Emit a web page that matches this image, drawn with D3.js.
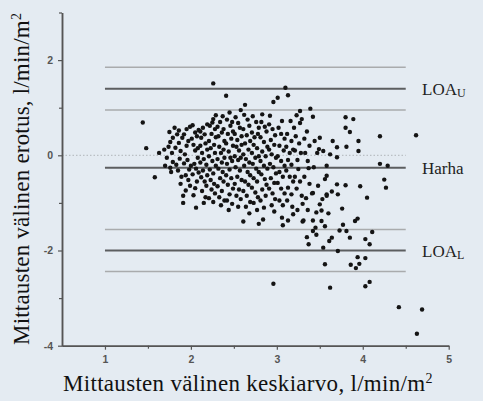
<!DOCTYPE html>
<html>
<head>
<meta charset="utf-8">
<script src="https://cdnjs.cloudflare.com/ajax/libs/d3/7.8.5/d3.min.js"></script>
<style>
body{margin:0;background:#e4ebf2;}
svg{display:block;}
</style>
</head>
<body>
<div id="chart"></div>
<script>
// akselit
var xTicks=[1,2,3,4,5];
var xMinor=[1.5,2.5,3.5,4.5];
var yTicks=[-4,-2,0,2];
var yMinor=[-3,-1,1,3];

// harha ja yhtäpitävyysrajat (LOA) + luottamusvälit
var rajaArvot=[1.40,-0.26,-2.00];
var rajaNimet=[["LOA","U"],["Harha",""],["LOA","L"]];
var luottamusvalit=[1.85,0.95,-1.56,-2.44];
var viivaAlku=1, viivaLoppu=4.5;

// [keskiarvo, erotus]
var pisteet=[
[1.44,0.69],[1.48,0.15],[1.58,-0.46],[1.63,0.05],[1.70,-0.22],[1.69,0.12],
[1.75,0.49],[1.79,0.37],[1.76,0.28],[1.72,-0.05],[1.76,-0.26],[1.78,0.05],[1.74,0.18],[1.79,-0.14],[1.77,-0.35],
[1.82,0.16],[1.88,0.09],[1.87,-0.07],[1.90,0.37],[1.84,0.44],[1.86,0.26],[1.83,-0.20],[1.85,-0.32],[1.89,-0.45],[1.81,0.58],[1.88,-0.60],[1.86,0.52],
[1.92,0.44],[1.92,-0.17],[1.99,0.60],[1.91,-1.00],[1.94,-0.74],[1.99,-0.64],[1.95,0.20],[1.97,0.30],[1.93,0.02],[1.96,-0.10],[1.98,-0.30],[1.94,-0.42],[1.97,-0.52],[1.95,0.55],[1.91,-0.85],
[2.02,0.63],[2.09,0.53],[2.06,-1.10],[2.05,-0.69],[2.01,0.35],[2.03,0.22],[2.05,0.10],[2.07,0.40],[2.08,-0.05],[2.04,-0.18],[2.06,-0.28],[2.02,-0.40],[2.09,-0.36],[2.07,-0.55],[2.03,-0.84],[2.08,0.15],[2.00,-0.22],[2.05,0.48],
[2.12,0.37],[2.16,0.44],[2.18,-0.64],[2.14,0.58],[2.11,0.20],[2.17,0.25],[2.13,0.05],[2.19,0.12],[2.15,-0.08],[2.11,-0.15],[2.18,-0.20],[2.14,-0.32],[2.12,-0.46],[2.19,-0.42],[2.16,-0.55],[2.13,-0.75],[2.17,-0.88],[2.19,0.65],[2.15,-1.00],[2.11,0.50],
[2.22,0.62],[2.25,0.69],[2.26,0.76],[2.26,1.51],[2.21,0.30],[2.24,0.45],[2.28,0.55],[2.23,0.15],[2.27,0.22],[2.29,0.38],[2.21,-0.02],[2.25,-0.12],[2.28,0.05],[2.22,-0.30],[2.26,-0.38],[2.29,-0.22],[2.23,-0.52],[2.27,-0.60],[2.24,-0.72],[2.28,-0.80],[2.21,-0.90],[2.26,-0.98],[2.29,0.84],
[2.31,0.60],[2.34,0.70],[2.37,0.82],[2.32,0.40],[2.36,0.48],[2.39,0.30],[2.33,0.18],[2.35,0.05],[2.38,0.12],[2.31,-0.08],[2.36,-0.15],[2.39,-0.05],[2.32,-0.28],[2.37,-0.35],[2.34,-0.48],[2.38,-0.55],[2.31,-0.65],[2.36,-0.75],[2.33,-0.88],[2.39,-0.95],[2.35,-1.05],[2.38,0.55],
[2.41,1.25],[2.45,0.90],[2.42,0.75],[2.46,0.62],[2.48,0.70],[2.43,0.45],[2.47,0.35],[2.41,0.25],[2.49,0.20],[2.44,0.08],[2.46,-0.05],[2.42,-0.18],[2.48,-0.12],[2.45,-0.30],[2.41,-0.42],[2.47,-0.48],[2.43,-0.62],[2.49,-0.70],[2.45,-0.82],[2.42,-0.95],[2.48,-1.02],[2.44,-1.15],[2.49,0.50],
[2.58,0.95],[2.52,0.80],[2.55,0.68],[2.57,0.58],[2.51,0.45],[2.54,0.32],[2.59,0.40],[2.53,0.18],[2.56,0.10],[2.59,0.22],[2.51,-0.02],[2.55,-0.10],[2.58,-0.05],[2.52,-0.25],[2.57,-0.32],[2.54,-0.45],[2.59,-0.52],[2.51,-0.60],[2.56,-0.72],[2.53,-0.85],[2.58,-0.92],[2.55,-1.08],[2.61,-1.39],
[2.63,1.06],[2.62,0.85],[2.66,0.75],[2.68,0.62],[2.61,0.55],[2.65,0.42],[2.69,0.30],[2.63,0.25],[2.67,0.12],[2.61,0.02],[2.64,-0.08],[2.68,-0.15],[2.62,-0.22],[2.66,-0.35],[2.69,-0.42],[2.63,-0.55],[2.67,-0.62],[2.61,-0.75],[2.65,-0.85],[2.69,-0.98],[2.64,-1.08],[2.68,-1.22],
[2.72,0.82],[2.76,0.70],[2.79,0.58],[2.71,0.48],[2.74,0.38],[2.78,0.45],[2.73,0.22],[2.77,0.15],[2.71,0.05],[2.75,-0.05],[2.79,-0.02],[2.72,-0.18],[2.76,-0.28],[2.79,-0.35],[2.73,-0.48],[2.77,-0.55],[2.71,-0.68],[2.75,-0.78],[2.78,-0.88],[2.73,-1.00],[2.77,-1.15],[2.79,-1.44],
[2.83,0.86],[2.84,-1.35],[2.82,0.70],[2.86,0.60],[2.88,0.50],[2.81,0.38],[2.85,0.28],[2.89,0.18],[2.83,0.08],[2.87,-0.02],[2.81,-0.12],[2.85,-0.22],[2.89,-0.28],[2.82,-0.40],[2.86,-0.50],[2.88,-0.62],[2.83,-0.72],[2.87,-0.85],[2.81,-0.95],[2.85,-1.10],
[2.92,0.83],[2.96,1.12],[2.96,-2.70],[2.91,0.65],[2.95,0.55],[2.98,0.42],[2.93,0.32],[2.97,0.22],[2.91,0.12],[2.94,0.02],[2.99,-0.05],[2.92,-0.18],[2.96,-0.25],[2.99,-0.38],[2.93,-0.48],[2.97,-0.58],[2.91,-0.70],[2.95,-0.80],[2.98,-0.92],[2.94,-1.05],[2.97,-1.18],
[3.01,1.21],[3.06,0.72],[3.07,-1.47],[3.06,-1.31],[3.02,0.58],[3.05,0.45],[3.09,0.35],[3.03,0.20],[3.08,0.10],[3.01,-0.02],[3.05,-0.12],[3.09,-0.22],[3.03,-0.35],[3.07,-0.45],[3.01,-0.58],[3.05,-0.70],[3.09,-0.80],[3.03,-0.95],[3.07,-1.05],[3.10,1.42],
[3.13,1.26],[3.16,0.72],[3.20,0.58],[3.13,-1.37],[3.19,-1.24],[3.12,0.45],[3.17,0.30],[3.11,0.18],[3.15,0.05],[3.19,0.12],[3.13,-0.10],[3.17,-0.20],[3.11,-0.32],[3.15,-0.45],[3.19,-0.55],[3.13,-0.68],[3.17,-0.82],[3.12,-0.95],[3.18,-1.08],
[3.27,0.93],[3.23,0.84],[3.29,0.76],[3.27,0.68],[3.25,-0.29],[3.30,-1.39],[3.30,-1.02],[3.22,0.40],[3.26,0.25],[3.21,0.10],[3.28,0.05],[3.24,-0.10],[3.21,-0.45],[3.27,-0.55],[3.23,-0.70],[3.29,-0.85],[3.24,-1.15],
[3.39,0.98],[3.31,-1.37],[3.35,-1.72],[3.37,-1.87],[3.37,-0.27],[3.32,0.35],[3.35,0.50],[3.38,0.20],[3.33,0.05],[3.36,-0.12],[3.32,-0.45],[3.38,-0.60],[3.34,-0.90],[3.36,-1.15],
[3.42,0.81],[3.42,-0.79],[3.48,-0.64],[3.42,-1.37],[3.46,-1.67],[3.42,-1.59],[3.45,-1.52],[3.50,0.37],[3.49,0.13],[3.41,-0.80],[3.50,-1.03],[3.44,0.30],[3.47,0.05],[3.43,-0.25],[3.46,-1.20],
[3.54,0.09],[3.58,-0.22],[3.58,-0.43],[3.56,-0.50],[3.58,-0.82],[3.56,-1.49],[3.52,-1.38],[3.54,-1.94],[3.56,-2.29],[3.52,-1.16],[3.53,-0.92],[3.58,-0.85],[3.60,-1.22],
[3.62,0.02],[3.65,0.30],[3.70,0.17],[3.70,-0.04],[3.70,-0.61],[3.71,-0.82],[3.61,-1.80],[3.64,-1.73],[3.62,-2.78],[3.64,-0.76],
[3.71,-2.01],[3.73,-1.58],[3.77,-1.46],[3.76,-1.12],[3.80,-0.63],[3.81,0.18],[3.80,0.80],[3.80,0.58],[3.81,-1.59],
[3.89,0.76],[3.85,0.49],[3.85,-1.73],[3.86,-2.30],[3.91,-1.38],
[3.95,0.30],[3.95,0.09],[3.97,-0.65],[3.94,-1.33],[3.94,-2.14],[3.92,-2.37],[3.96,-2.28],
[4.05,-0.89],[4.03,-1.76],[4.08,-1.87],[4.11,-1.61],[4.03,-2.16],[4.03,-2.75],[4.08,-2.66],
[4.20,0.40],[4.20,-0.18],[4.29,-0.22],[4.25,-0.51],[4.27,-0.68],[4.62,0.42],
[4.42,-3.19],[4.69,-3.24],[4.63,-3.75]
];

var width=483, height=401;
var svg=d3.select("#chart").append("svg")
		.attr("width",width).attr("height",height);

var x=d3.scaleLinear().domain([0.5,5]).range([62,448.7]);
var y=d3.scaleLinear().domain([-4,3]).range([345.7,12.5]);

var akseliVari="#555";
var serif="'Liberation Serif','Times New Roman',serif";

//=================nollataso (pisteviiva)================
svg.append("line")
	.attr("x1",x(0.5)).attr("x2",x(viivaLoppu))
	.attr("y1",y(0)).attr("y2",y(0))
	.attr("stroke","#b0b4b8").attr("stroke-width",1)
	.attr("stroke-dasharray","1.5,2");

//=================vaakaviivat================
svg.append("g").selectAll("line").data(luottamusvalit)
	.enter().append("line")
	.attr("x1",x(viivaAlku)).attr("x2",x(viivaLoppu))
	.attr("y1",function(d){return y(d);}).attr("y2",function(d){return y(d);})
	.attr("stroke","#a9abad").attr("stroke-width",1.5);
svg.append("g").selectAll("line").data(rajaArvot)
	.enter().append("line")
	.attr("x1",x(viivaAlku)).attr("x2",x(viivaLoppu))
	.attr("y1",function(d){return y(d);}).attr("y2",function(d){return y(d);})
	.attr("stroke","#5c5e60").attr("stroke-width",2);

//=================pisteet================
svg.append("g").selectAll("circle").data(pisteet)
	.enter().append("circle")
	.attr("cx",function(d){return x(d[0]);})
	.attr("cy",function(d){return y(d[1]);})
	.attr("r",2.2)
	.attr("fill","#141414");

//=================akselit================
function tyyli(g){
	g.select(".domain").attr("stroke",akseliVari).attr("stroke-width",1.5);
	g.selectAll(".tick line").attr("stroke",akseliVari).attr("stroke-width",1.2);
	g.selectAll(".tick text").attr("fill","#555")
		.style("font-family","'Liberation Sans',Arial,sans-serif")
		.style("font-size","10.5px").style("font-weight","bold");
}
var gx=svg.append("g").attr("transform","translate(0,"+y(-4)+")")
	.call(d3.axisBottom(x).tickValues(xTicks).tickSize(4).tickSizeOuter(0).tickPadding(6).tickFormat(d3.format("d")));
tyyli(gx);
var gxm=svg.append("g").attr("transform","translate(0,"+y(-4)+")")
	.call(d3.axisBottom(x).tickValues(xMinor).tickSize(3).tickSizeOuter(0).tickFormat(""));
tyyli(gxm);
var gy=svg.append("g").attr("transform","translate("+x(0.5)+",0)")
	.call(d3.axisLeft(y).tickValues(yTicks).tickSize(4).tickSizeOuter(0).tickPadding(5).tickFormat(d3.format("d")));
tyyli(gy);
var gym=svg.append("g").attr("transform","translate("+x(0.5)+",0)")
	.call(d3.axisLeft(y).tickValues(yMinor).tickSize(3).tickSizeOuter(0).tickFormat(""));
tyyli(gym);
gy.selectAll(".tick text").text(function(d){return d<0?"-"+Math.abs(d):d;});

//=================viivojen nimet================
var nimet=svg.append("g").selectAll("text").data(rajaArvot)
	.enter().append("text")
	.attr("x",422)
	.attr("y",function(d){return y(d)+6;})
	.style("font-family",serif)
	.style("font-size","17px").attr("fill","#222");
nimet.append("tspan").text(function(d,i){return rajaNimet[i][0];});
nimet.append("tspan").attr("dy",2).style("font-size","12px")
	.text(function(d,i){return rajaNimet[i][1];});

//=================akselien otsikot================
var xo=svg.append("text").attr("x",63).attr("y",391)
	.style("font-family",serif).style("letter-spacing","0.3px")
	.style("font-size","23px").attr("fill","#111");
xo.append("tspan").text("Mittausten välinen keskiarvo, l/min/m");
xo.append("tspan").attr("dy",-8).style("font-size","14px").text("2");

var yo=svg.append("text").attr("transform","translate(29,345) rotate(-90)")
	.style("font-family",serif).style("letter-spacing","0.2px")
	.style("font-size","23px").attr("fill","#111");
yo.append("tspan").text("Mittausten välinen erotus, l/min/m");
yo.append("tspan").attr("dy",-8).style("font-size","14px").text("2");
</script>
</body>
</html>
